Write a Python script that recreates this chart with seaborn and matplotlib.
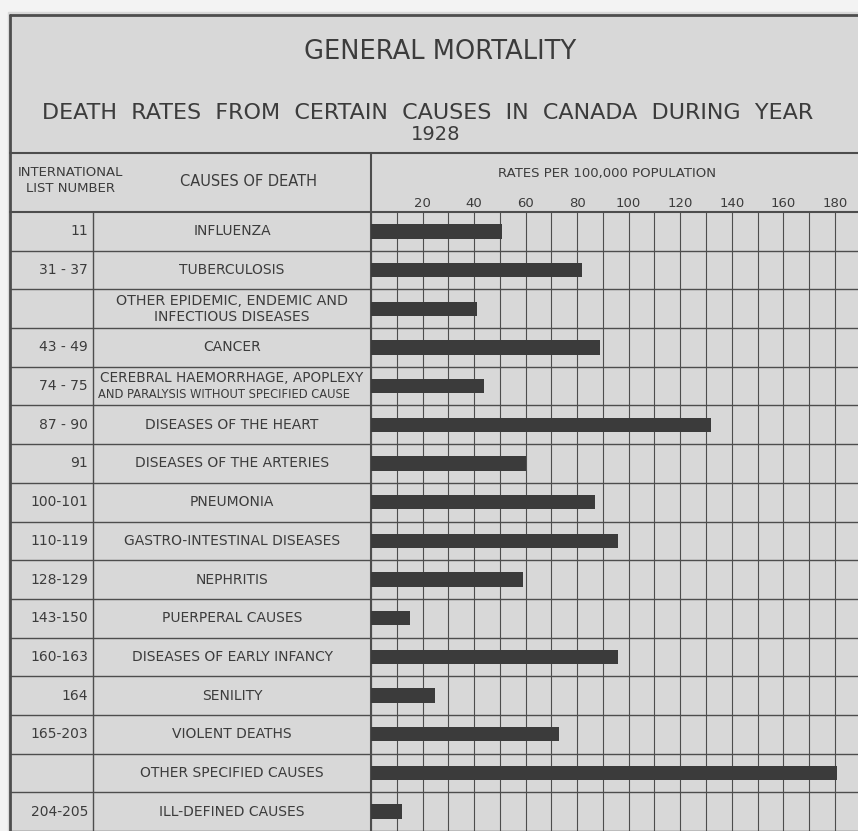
import matplotlib
matplotlib.use("Agg")
import matplotlib.pyplot as plt
import matplotlib.transforms as mtransforms
import seaborn as sns

# values
codes = ["11", "31 - 37", "", "43 - 49", "74 - 75", "87 - 90", "91", "100-101",
         "110-119", "128-129", "143-150", "160-163", "164", "165-203", "", "204-205"]
causes = ["INFLUENZA", "TUBERCULOSIS",
          "OTHER EPIDEMIC, ENDEMIC AND\nINFECTIOUS DISEASES",
          "CANCER",
          "CEREBRAL HAEMORRHAGE, APOPLEXY\nAND PARALYSIS WITHOUT SPECIFIED CAUSE",
          "DISEASES OF THE HEART", "DISEASES OF THE ARTERIES", "PNEUMONIA",
          "GASTRO-INTESTINAL DISEASES", "NEPHRITIS", "PUERPERAL CAUSES",
          "DISEASES OF EARLY INFANCY", "SENILITY", "VIOLENT DEATHS",
          "OTHER SPECIFIED CAUSES", "ILL-DEFINED CAUSES"]
rates = [51, 82, 41, 89, 44, 132, 60, 87, 96, 59, 15, 96, 25, 73, 181, 12]
tick_vals = list(range(0, 190, 10))
tick_labels = ["" if (v == 0 or v % 20) else str(v) for v in tick_vals]

paper = "#d8d8d8"
ink = "#3c3c3c"
line_c = "#4d4d4d"

sns.set_theme(style="white")
plt.rcParams["font.family"] = ["DejaVu Sans"]

W, H = 858, 831
fig = plt.figure(figsize=(W / 100, H / 100), dpi=100)
fig.patch.set_facecolor("#f3f3f3")

# background axes in pixel coordinates for the table frame and titles
bg = fig.add_axes([0, 0, 1, 1])
bg.set_xlim(0, W)
bg.set_ylim(H, 0)
bg.axis("off")
bg.add_patch(plt.Rectangle((8, 12), W, H, color=paper, zorder=0))

x0, top = 371, 212
ax = fig.add_axes([x0 / W, 0, 1 - x0 / W, 1 - top / H])
ax.patch.set_alpha(0)
ax.set_zorder(2)

sns.barplot(x=rates, y=causes, orient="h", color="#3b3b3b", saturation=1,
            width=0.37, linewidth=0, ax=ax)
ax.set_xlim(0, 189)
ax.set_ylim(15.5, -0.5)
ax.set_xticks(tick_vals)
ax.set_xticklabels(tick_labels)
ax.xaxis.tick_top()
ax.tick_params(axis="x", length=0, pad=1.5, labelsize=9.5, labelcolor=ink)
ax.set_yticks([])
ax.set_xlabel("")
ax.set_ylabel("")
ax.set_axisbelow(True)
ax.grid(axis="x", color=line_c, lw=0.8)
for s in ax.spines.values():
    s.set_visible(False)

# frame lines
bg.plot([10, W], [15, 15], color=line_c, lw=2)
bg.plot([10, 10], [15, H], color=line_c, lw=2)
bg.plot([10, W], [153, 153], color=line_c, lw=1.5)
bg.plot([10, W], [top, top], color=line_c, lw=1.5)
bg.plot([x0, x0], [153, H], color=line_c, lw=1.5)
bg.plot([93, 93], [top, H], color=line_c, lw=1)

rows = mtransforms.blended_transform_factory(bg.transData, ax.transData)
for k in range(len(causes)):
    bg.plot([10, W], [k + 0.5, k + 0.5], color=line_c, lw=1, transform=rows)
    bg.text(88, k, codes[k], ha="right", va="center", fontsize=10,
            color=ink, transform=rows)
    parts = causes[k].split("\n")
    if len(parts) == 1:
        bg.text(232, k, parts[0], ha="center", va="center", fontsize=10,
                color=ink, transform=rows)
    elif k == 4:
        bg.text(232, k - 0.2, parts[0], ha="center", va="center",
                fontsize=9.8, color=ink, transform=rows)
        bg.text(224, k + 0.23, parts[1], ha="center", va="center",
                fontsize=8.3, color=ink, transform=rows)
    else:
        bg.text(232, k - 0.2, parts[0], ha="center", va="center",
                fontsize=10.3, color=ink, transform=rows)
        bg.text(232, k + 0.22, parts[1], ha="center", va="center",
                fontsize=10, color=ink, transform=rows)

# titles and headers
bg.text(440, 52, "GENERAL MORTALITY", ha="center", va="center",
        fontsize=18.5, color=ink)
bg.text(428, 113, "DEATH  RATES  FROM  CERTAIN  CAUSES  IN  CANADA  DURING  YEAR",
        ha="center", va="center", fontsize=16, color=ink)
bg.text(436, 135, "1928", ha="center", va="center", fontsize=14, color=ink)
bg.text(70, 172, "INTERNATIONAL", ha="center", va="center", fontsize=9.5, color=ink)
bg.text(70, 189, "LIST NUMBER", ha="center", va="center", fontsize=9.5, color=ink)
bg.text(248, 182, "CAUSES OF DEATH", ha="center", va="center", fontsize=10.5, color=ink)
bg.text(607, 173, "RATES PER 100,000 POPULATION", ha="center", va="center",
        fontsize=9.5, color=ink)

fig.savefig("out.png", dpi=100, facecolor=fig.get_facecolor())
